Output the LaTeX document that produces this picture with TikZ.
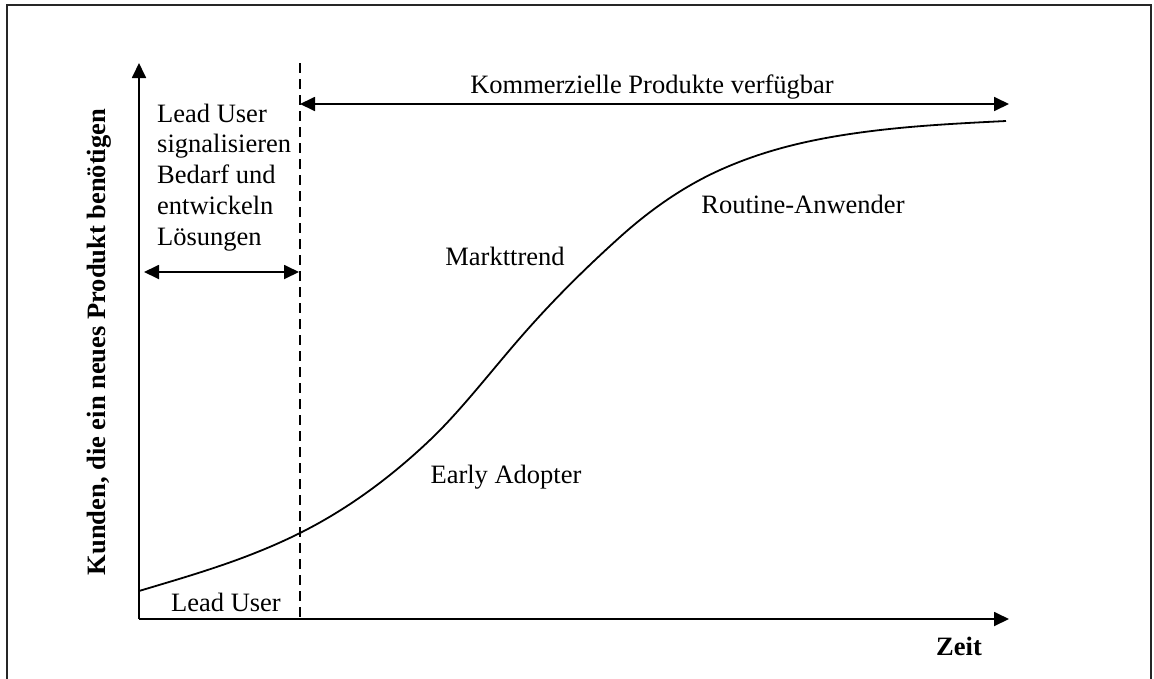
\documentclass[tikz,border=0pt]{standalone}
\usepackage{fontspec}
\setmainfont{Liberation Serif}
\usetikzlibrary{arrows.meta}

\tikzset{
  axisline/.style={line width=1.8pt, -{Triangle[length=15pt,width=14pt]}},
  spanarrow/.style={line width=1.8pt, {Triangle[length=15pt,width=14pt]}-{Triangle[length=15pt,width=14pt]}},
  divider/.style={line width=1.5pt, dash pattern=on 10pt off 6pt},
  lbl/.style={font=\fontsize{26.5}{30.75}\selectfont, inner sep=0pt},
  boldlbl/.style={lbl, font=\fontsize{26.5}{30.75}\selectfont\bfseries},
  curve/.style={line width=1.8pt, line join=round}
}

\begin{document}
\begin{tikzpicture}[x=1pt, y=-1pt]
  \useasboundingbox (0,0) rectangle (1154,678);

  % frame (its lower edge lies below the visible area)
  \draw[line width=2pt, black!85] (7,690) -- (7,5) -- (1151,5) -- (1151,690);

  % axes
  \coordinate (O) at (139,619);
  \coordinate (ytip) at (139,63);
  \coordinate (xtip) at (1009,619);
  \draw[axisline] (O) -- (ytip);
  \draw[axisline] (O) -- (xtip);

  % boundary between lead users and commercial market
  \coordinate (dtop) at (300,63);
  \coordinate (dbot) at (300,619);
  \draw[divider] (dtop) -- (dbot);

  % span arrows
  \coordinate (comL) at (300,104);
  \coordinate (comR) at (1009,104);
  \draw[spanarrow] (comL) -- (comR);
  \coordinate (luL) at (144,272);
  \coordinate (luR) at (299,272);
  \draw[spanarrow] (luL) -- (luR);

  % diffusion curve: cubic pieces with matching tangents
  \draw[curve] (139,591)
    .. controls (192.67,574.9) and (246.33,559.8) .. (300,533)
    .. controls (343.33,511.33) and (386.67,481.17) .. (430,440)
    .. controls (460,411.5) and (490,372.5) .. (520,338)
    .. controls (553.33,299.67) and (586.67,267) .. (620,237)
    .. controls (653.33,207) and (686.67,185) .. (720,170)
    .. controls (763.33,150.5) and (806.67,140.5) .. (850,134)
    .. controls (902,126.2) and (954,123.6) .. (1006,121);

  % labels
  \node[lbl, anchor=base] (kom) at (652,93) {Kommerzielle Produkte verfügbar};
  \node[lbl, anchor=base west] (lu1) at (157,122) {Lead User};
  \node[lbl, anchor=base west] (lu2) at (157,152.75) {signalisieren};
  \node[lbl, anchor=base west] (lu3) at (157,183.5) {Bedarf und};
  \node[lbl, anchor=base west] (lu4) at (157,214.25) {entwickeln};
  \node[lbl, anchor=base west] (lu5) at (157,245) {Lösungen};
  \node[lbl, anchor=base] (mt) at (505,265) {Markttrend};
  \node[lbl, anchor=base] (ra) at (803,213) {Routine-Anwender};
  \node[lbl, anchor=base] (ea) at (506,483) {Early Adopter};
  \node[lbl, anchor=base] (lu) at (226,611) {Lead User};
  \node[boldlbl, anchor=base] (zeit) at (959,655) {Zeit};
  \node[boldlbl, anchor=base, rotate=90] (ylab) at (105,342) {Kunden, die ein neues Produkt benötigen};
\end{tikzpicture}
\end{document}
